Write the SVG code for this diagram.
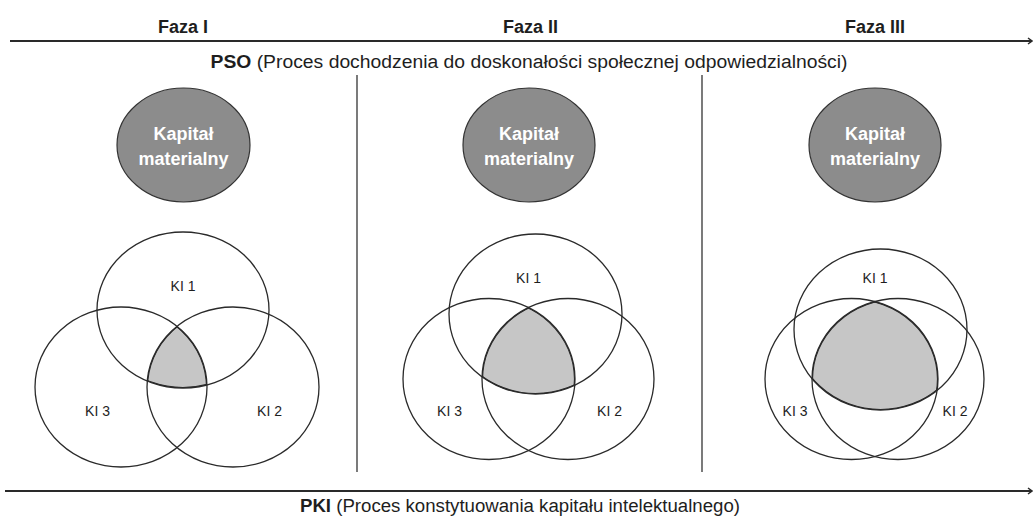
<svg xmlns="http://www.w3.org/2000/svg" width="1035" height="518" viewBox="0 0 1035 518">
<style>
text{font-family:"Liberation Sans",Arial,sans-serif;fill:#1e1e1e}
.h{font-size:18px;font-weight:bold;text-anchor:middle}
.t{font-size:18px;text-anchor:middle}
.b{font-weight:bold}
.km{fill:#8c8c8c;stroke:#333;stroke-width:1.2}
.kt{font-size:18px;font-weight:bold;fill:#fff;text-anchor:middle}
.ki{fill:none;stroke:#2a2a2a;stroke-width:1.3}
.sh{fill:#c6c6c6}
.bd{fill:none;stroke:#2a2a2a;stroke-width:2.2}
.lb{font-size:14px;text-anchor:middle}
.ax{stroke:#2a2a2a;stroke-width:2;fill:none}
.dv{stroke:#333;stroke-width:1.3}
</style>
<defs>
<marker id="ah" viewBox="0 0 6 8" refX="5" refY="4" markerWidth="6" markerHeight="8" markerUnits="userSpaceOnUse" orient="auto">
<path d="M1,1 L5,4 L1,7" fill="none" stroke="#2a2a2a" stroke-width="1.5"/>
</marker>
<clipPath id="a3"><ellipse cx="121" cy="387" rx="86" ry="80"/></clipPath>
<clipPath id="a23" clip-path="url(#a3)"><ellipse cx="233" cy="387" rx="86" ry="80"/></clipPath>
<clipPath id="a123" clip-path="url(#a23)"><ellipse cx="183" cy="310" rx="86" ry="78"/></clipPath>
<clipPath id="b3"><ellipse cx="489" cy="379" rx="86" ry="80.5"/></clipPath>
<clipPath id="b23" clip-path="url(#b3)"><ellipse cx="568" cy="379" rx="86" ry="80.5"/></clipPath>
<clipPath id="b123" clip-path="url(#b23)"><ellipse cx="535.5" cy="314" rx="86.5" ry="80"/></clipPath>
<clipPath id="c3"><ellipse cx="851.5" cy="379" rx="86.5" ry="80.5"/></clipPath>
<clipPath id="c23" clip-path="url(#c3)"><ellipse cx="898" cy="379" rx="86" ry="80.5"/></clipPath>
<clipPath id="c123" clip-path="url(#c23)"><ellipse cx="880.5" cy="329.5" rx="86.5" ry="80.5"/></clipPath>
</defs>

<g id="connectors">
<line class="ax" x1="10" y1="41" x2="1032" y2="41" marker-end="url(#ah)"/>
<line class="ax" x1="5" y1="491" x2="1032" y2="491" marker-end="url(#ah)"/>
<line class="dv" x1="357" y1="75" x2="357" y2="472"/>
<line class="dv" x1="702" y1="75" x2="702" y2="472"/>
</g>

<g id="faza1"><text class="h" x="183" y="33">Faza I</text></g>
<g id="faza2"><text class="h" x="530.5" y="33">Faza II</text></g>
<g id="faza3"><text class="h" x="875" y="33">Faza III</text></g>

<g id="pso"><text class="t" x="529" y="68" textLength="637" lengthAdjust="spacingAndGlyphs"><tspan class="b">PSO</tspan> (Proces dochodzenia do doskonałości społecznej odpowiedzialności)</text></g>
<g id="pki"><text class="t" x="520" y="512" textLength="440" lengthAdjust="spacingAndGlyphs"><tspan class="b">PKI</tspan> (Proces konstytuowania kapitału intelektualnego)</text></g>

<g id="km1">
<ellipse class="km" cx="183.5" cy="145" rx="66.5" ry="57"/>
<text class="kt" x="183.5" y="140">Kapitał</text>
<text class="kt" x="183.5" y="165">materialny</text>
</g>
<g id="km2">
<ellipse class="km" cx="529" cy="145" rx="66" ry="57"/>
<text class="kt" x="529" y="140">Kapitał</text>
<text class="kt" x="529" y="165">materialny</text>
</g>
<g id="km3">
<ellipse class="km" cx="875" cy="145" rx="66" ry="57"/>
<text class="kt" x="875" y="140">Kapitał</text>
<text class="kt" x="875" y="165">materialny</text>
</g>

<g id="venn1">
<rect class="sh" x="0" y="200" width="357" height="300" clip-path="url(#a123)"/>
<g clip-path="url(#a123)">
<ellipse class="bd" cx="183" cy="310" rx="86" ry="78"/>
<ellipse class="bd" cx="121" cy="387" rx="86" ry="80"/>
<ellipse class="bd" cx="233" cy="387" rx="86" ry="80"/>
</g>
<ellipse class="ki" cx="183" cy="310" rx="86" ry="78"/>
<ellipse class="ki" cx="121" cy="387" rx="86" ry="80"/>
<ellipse class="ki" cx="233" cy="387" rx="86" ry="80"/>
<text class="lb" x="183" y="291">KI 1</text>
<text class="lb" x="97.5" y="416">KI 3</text>
<text class="lb" x="269.5" y="416">KI 2</text>
</g>

<g id="venn2">
<rect class="sh" x="357" y="200" width="345" height="300" clip-path="url(#b123)"/>
<g clip-path="url(#b123)">
<ellipse class="bd" cx="535.5" cy="314" rx="86.5" ry="80"/>
<ellipse class="bd" cx="489" cy="379" rx="86" ry="80.5"/>
<ellipse class="bd" cx="568" cy="379" rx="86" ry="80.5"/>
</g>
<ellipse class="ki" cx="535.5" cy="314" rx="86.5" ry="80"/>
<ellipse class="ki" cx="489" cy="379" rx="86" ry="80.5"/>
<ellipse class="ki" cx="568" cy="379" rx="86" ry="80.5"/>
<text class="lb" x="528.5" y="283">KI 1</text>
<text class="lb" x="449.5" y="416">KI 3</text>
<text class="lb" x="609.5" y="416">KI 2</text>
</g>

<g id="venn3">
<rect class="sh" x="702" y="200" width="333" height="300" clip-path="url(#c123)"/>
<g clip-path="url(#c123)">
<ellipse class="bd" cx="880.5" cy="329.5" rx="86.5" ry="80.5"/>
<ellipse class="bd" cx="851.5" cy="379" rx="86.5" ry="80.5"/>
<ellipse class="bd" cx="898" cy="379" rx="86" ry="80.5"/>
</g>
<ellipse class="ki" cx="880.5" cy="329.5" rx="86.5" ry="80.5"/>
<ellipse class="ki" cx="851.5" cy="379" rx="86.5" ry="80.5"/>
<ellipse class="ki" cx="898" cy="379" rx="86" ry="80.5"/>
<text class="lb" x="875" y="283">KI 1</text>
<text class="lb" x="795" y="416">KI 3</text>
<text class="lb" x="955" y="416">KI 2</text>
</g>
</svg>
